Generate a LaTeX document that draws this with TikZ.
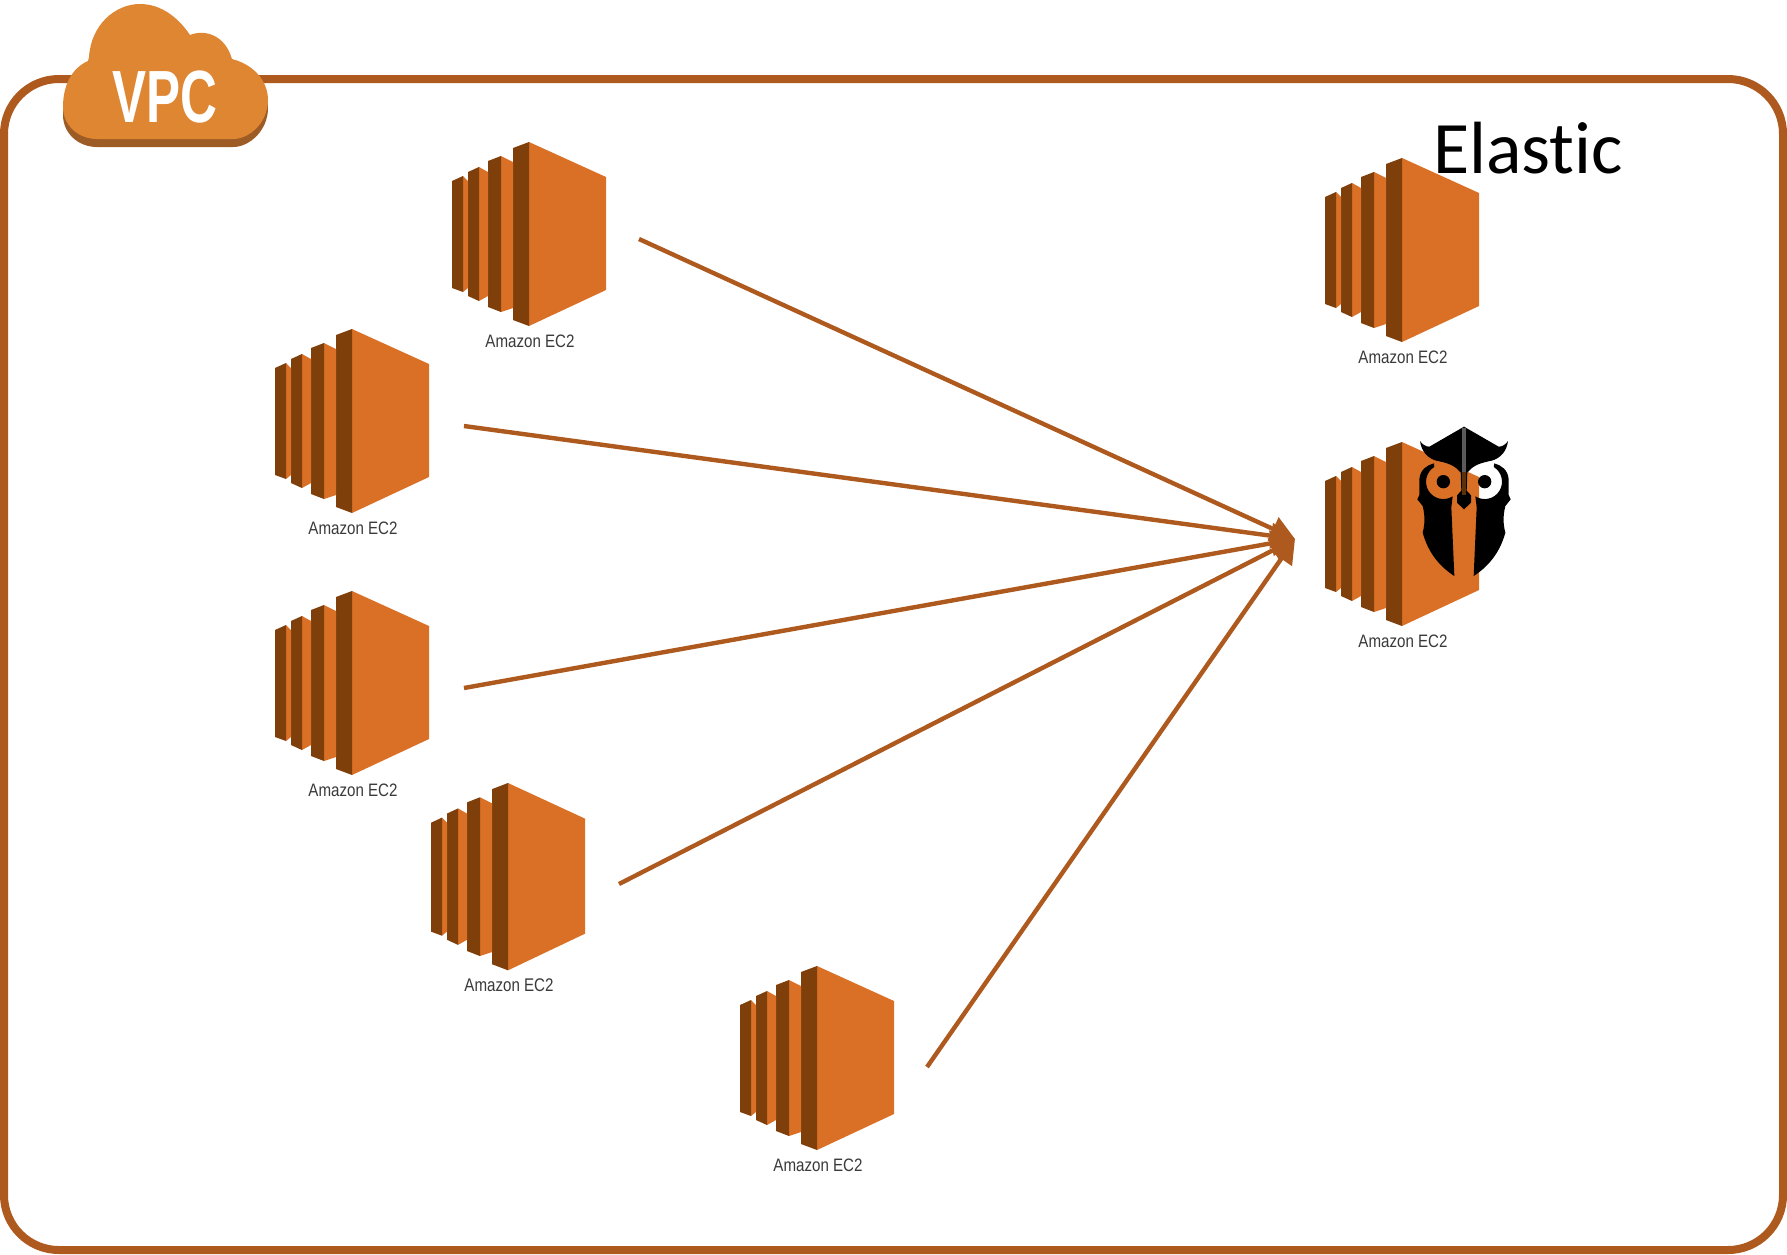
\documentclass[tikz,border=0pt]{standalone}
\usepackage{fontspec}
\setmainfont{Liberation Sans}
\newfontfamily\elasticfont[Ligatures=NoCommon,RawFeature={-liga;-dlig;-clig}]{Carlito}
\newfontfamily\vpcfont[FakeStretch=0.69]{Liberation Sans}
\newfontfamily\ecfont[FakeStretch=0.84]{Liberation Sans}
\usetikzlibrary{arrows.meta}
\definecolor{frameC}{HTML}{AE5A1F}
\definecolor{cloudC}{HTML}{DE8632}
\definecolor{cloudS}{HTML}{9D5B26}
\definecolor{ecLight}{HTML}{D97025}
\definecolor{ecDark}{HTML}{7F3F0B}
\definecolor{ecText}{HTML}{3A3A3A}
\definecolor{owlGrey}{HTML}{5A5A5A}
\definecolor{owlBrown}{HTML}{5A300C}
\newcommand\owlhalfshape{%
    \fill[black] (72,130) .. controls (50,135) and (30,150) .. (28,178) -- (28,225) -- (22,238) -- (38,258)
      .. controls (46,290) and (44,315) .. (38,338) .. controls (55,400) and (90,440) .. (133,468)
      -- (124,262) -- (128,229) arc[start angle=57.5,end angle=237.5,radius=52] -- cycle;
    \fill[black] (30,63) .. controls (36,72) and (46,80) .. (58,80) -- (162,20) -- (162,160) -- (149,155)
      .. controls (134,135) and (109,128) .. (79,122) .. controls (54,115) and (34,95) .. (30,63) -- cycle;
    \fill[black] (100,185) circle[radius=20];
    \fill[black] (162,155) -- (152,155) -- (154,212) -- (141,226) -- (141,248) -- (162,268) -- cycle;
}
\tikzset{
  x=1pt,y=-1pt,
  vpcframe/.style={draw=frameC,line width=8pt,rounded corners=55pt},
  flow/.style={draw=frameC,line width=4.4pt,-{Triangle[length=24pt,width=25pt]}},
  eclabel/.style={font=\ecfont\fontsize{18}{18}\selectfont,text=ecText,inner sep=0pt},
  pics/ec2icon/.style={code={
    \fill[ecLight] (0,0) -- (77,35) -- (77,148) -- (0,184) -- cycle;
    \fill[ecDark] (-16,6) -- (0,0) -- (0,184) -- (-16,178) -- cycle;
    \fill[ecLight] (-28,14) -- (-16,20) -- (-16,166) -- (-28,170) -- cycle;
    \fill[ecDark] (-41,19) -- (-28,14) -- (-28,170) -- (-41,165) -- cycle;
    \fill[ecLight] (-50,25) -- (-41,30) -- (-41,154) -- (-50,159) -- cycle;
    \fill[ecDark] (-61,30) -- (-50,25) -- (-50,159) -- (-61,154) -- cycle;
    \fill[ecLight] (-66,34) -- (-61,39) -- (-61,146) -- (-66,150) -- cycle;
    \fill[ecDark] (-77,39) -- (-66,34) -- (-66,150) -- (-77,146) -- cycle;
    \node[eclabel] (-label) at (1,199) {Amazon EC2};
  }}
}
\begin{document}
\begin{tikzpicture}
\useasboundingbox (0,0) rectangle (1787,1254);
\fill[white] (0,0) rectangle (1787,1254);

\path[vpcframe] (4,79) rectangle (1783,1250);

% cloud
\begin{scope}
\def\cloudpath{(63,107) .. controls (63,85) and (72,68) .. (88,61) -- (89,57) .. controls (91,25) and (115,4) .. (140,4) .. controls (163,4) and (180,20) .. (190,35) .. controls (205,29) and (225,35) .. (232,59) .. controls (255,65) and (268,82) .. (268,100) .. controls (268,122) and (250,139) .. (233,139) -- (97,139) .. controls (78,139) and (63,125) .. (63,107) -- cycle}
\fill[cloudS] [yshift=-8pt] \cloudpath;
\fill[cloudC] \cloudpath;
\end{scope}
\node[font=\vpcfont\bfseries\fontsize{74}{74}\selectfont,text=white,inner sep=0pt,anchor=base] (vpc) at (165,122) {VPC};

% EC2 instances
\pic (a) at (529,142) {ec2icon};
\pic (b) at (352,329) {ec2icon};
\pic (c) at (352,591) {ec2icon};
\pic[yscale=1.018,transform shape] (d) at (508,783) {ec2icon};
\pic (e) at (817,966) {ec2icon};
\pic (f) at (1402,158) {ec2icon};
\pic (g) at (1402,442) {ec2icon};

% owl
\begin{scope}[shift={(1410,420)},scale=1/3]
\owlhalfshape
\begin{scope}[shift={(324,0)},xscale=-1]
\owlhalfshape
\end{scope}
\fill[owlGrey] (156,25) rectangle (169,155);
\fill[owlBrown] (156,155) rectangle (169,225);
\end{scope}

\node[font=\elasticfont\fontsize{74}{74}\selectfont,text=black,inner sep=0pt,anchor=base west] (elastic) at (1433,173) {Elastic};

% connectors
\coordinate (hub) at (1295,539);
\coordinate (s1) at (639,239);
\coordinate (s2) at (464,426);
\coordinate (s3) at (464,688);
\coordinate (s4) at (619,884);
\coordinate (s5) at (927,1067);
\draw[flow] (s1) -- (hub);
\draw[flow] (s2) -- (hub);
\draw[flow] (s3) -- (hub);
\draw[flow] (s4) -- (hub);
\draw[flow] (s5) -- (hub);
\end{tikzpicture}
\end{document}
